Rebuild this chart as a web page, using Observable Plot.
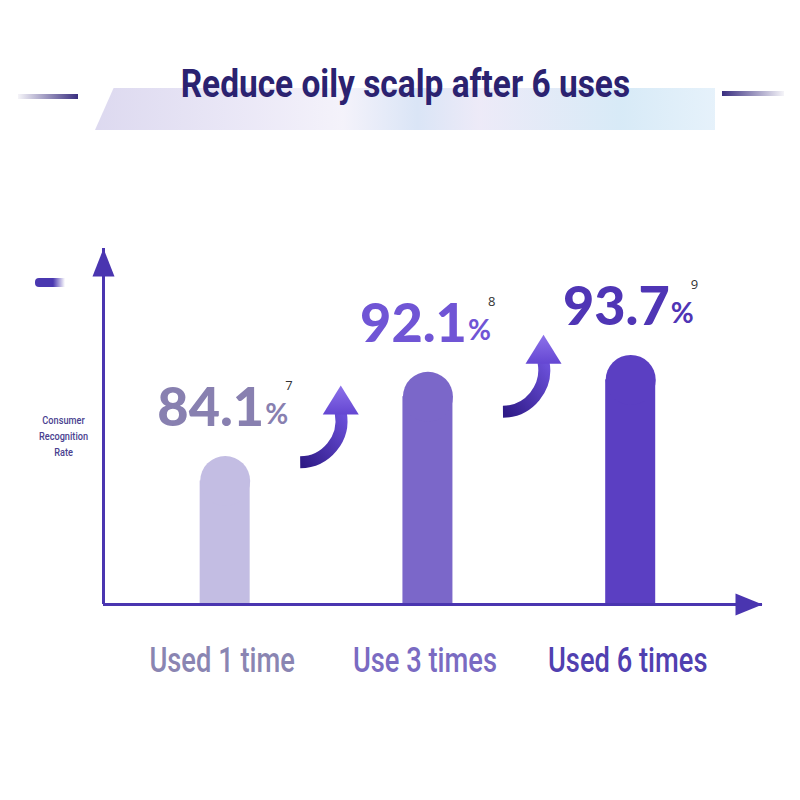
<!DOCTYPE html>
<html>
<head>
<meta charset="utf-8">
<script src="https://cdn.jsdelivr.net/npm/d3@7"></script>
<script src="https://cdn.jsdelivr.net/npm/@observablehq/plot@0.6"></script>
<style>
  html, body { margin: 0; padding: 0; background: #fff; }
  #wrap { position: relative; width: 800px; height: 800px; overflow: hidden; background: #fff; }
  #chart { position: absolute; left: 0; top: 0; z-index: 1; }
  #band { position: absolute; left: 95px; top: 88px; width: 620px; height: 42px; z-index: 2;
    background: linear-gradient(90deg, #d9d5ee 0%, #e9e6f6 25%, #f3f1fa 40%, #d6e2f5 52%, #ebe8f7 62%, #d3e8f6 85%, #e3f0fa 100%);
    clip-path: polygon(3% 0, 100% 0, 100% 100%, 0 100%); opacity: 0.9; }
  #titleRow { position: absolute; left: 0; width: 810px; top: 64px; z-index: 3; text-align: center; }
  #title { display: inline-block; transform: scaleX(0.88); transform-origin: center;
    font-family: Roboto, sans-serif; font-weight: 700; font-size: 38px; line-height: 40px; color: #2b2270; white-space: nowrap; }
  .dash { position: absolute; z-index: 2; }
  #dashL { left: 18px; top: 94px; width: 60px; height: 5px; background: linear-gradient(90deg, rgba(58,47,128,0.05), #3a2f80); }
  #dashR { left: 722px; top: 91px; width: 62px; height: 5px; background: linear-gradient(90deg, #3a2f80, rgba(58,47,128,0.05)); }
  #dashS { left: 35px; top: 278px; width: 30px; height: 9px; border-radius: 4px 0 0 4px; background: linear-gradient(90deg, #4a38b0 60%, rgba(74,56,176,0)); }
</style>
</head>
<body>
<div id="wrap">
  <div id="band"></div>
  <div id="titleRow"><span id="title"></span></div>
  <div class="dash" id="dashL"></div>
  <div class="dash" id="dashR"></div>
  <div class="dash" id="dashS"></div>
  <div id="chart"></div>
</div>
<script>
// ---- data ----
const title = "Reduce oily scalp after 6 uses";
const categories = ["Used 1 time", "Use 3 times", "Used 6 times"];
const values = [84.1, 92.1, 93.7];
const footnotes = ["7", "8", "9"];
const yAxisLabel = "Consumer\nRecognition\nRate";

// ---- styles ----
const barColors = ["#c3bde3", "#7b67c9", "#5b3fc2"];
const valueColors = ["#8880b0", "#7055d5", "#4f35b5"];
const categoryColors = ["#8a85b2", "#7a6bc2", "#5040b0"];
const axisColor = "#4a35b0";

document.getElementById("title").textContent = title;

const rows = categories.map((c, i) => ({i, category: c, value: values[i], note: footnotes[i]}));
const pairs = rows.slice(0, -1).map((d, k) => {
  const mid = (d.value + rows[k + 1].value) / 2;
  return {i: d.i, tailX: d.i + 0.37, tailY: mid - 4.6, tipX: d.i + 0.57, tipY: mid + 2.7};
});

const xDomain = [-0.6, 2.65];
const yDomain = [70, 103.8];
const halfBar = 0.1233;

// custom triangle symbols (tip at origin)
const triUp = {draw(ctx) { ctx.moveTo(0, 0); ctx.lineTo(11, 28); ctx.lineTo(-11, 28); ctx.closePath(); }};
const triRight = {draw(ctx) { ctx.moveTo(0, 0); ctx.lineTo(-27, -11); ctx.lineTo(-27, 11); ctx.closePath(); }};
const headUp = {draw(ctx) { ctx.moveTo(0, 0); ctx.lineTo(18, 29); ctx.lineTo(-18, 29); ctx.closePath(); }};

// gradient definitions for the growth arrows
function gradients() {
  const defs = d3.create("svg:defs");
  const g1 = defs.append("linearGradient").attr("id", "shaftGrad").attr("x1", 0).attr("y1", 1).attr("x2", 1).attr("y2", 0);
  g1.append("stop").attr("offset", "0%").attr("stop-color", "#2e1a86");
  g1.append("stop").attr("offset", "100%").attr("stop-color", "#6a4fd8");
  const g2 = defs.append("linearGradient").attr("id", "headGrad").attr("x1", 0).attr("y1", 0).attr("x2", 0).attr("y2", 1);
  g2.append("stop").attr("offset", "0%").attr("stop-color", "#8d72ea");
  g2.append("stop").attr("offset", "100%").attr("stop-color", "#6446d2");
  return defs.node();
}

const chart = Plot.plot({
  width: 800,
  height: 800,
  marginLeft: 0, marginRight: 0, marginTop: 0, marginBottom: 0,
  style: {background: "transparent"},
  x: {type: "linear", domain: xDomain, range: [103, 762], axis: null},
  y: {type: "linear", domain: yDomain, range: [604, 248], axis: null},
  color: {type: "identity"},
  marks: [
    gradients,
    // bars with rounded tops
    Plot.rectY(rows, {x1: d => d.i - halfBar, x2: d => d.i + halfBar, y1: yDomain[0], y2: "value", insetTop: 25, fill: d => barColors[d.i]}),
    Plot.dot(rows, {x: "i", y: "value", dy: 25, r: 25, fill: d => barColors[d.i], stroke: "none"}),
    // axes
    Plot.ruleX([xDomain[0]], {y1: yDomain[0], y2: yDomain[1], stroke: axisColor, strokeWidth: 3}),
    Plot.ruleY([yDomain[0]], {x1: xDomain[0], x2: xDomain[1], stroke: axisColor, strokeWidth: 3}),
    Plot.dot([0], {x: xDomain[0], y: yDomain[1], symbol: triUp, fill: axisColor, stroke: "none"}),
    Plot.dot([0], {x: xDomain[1], y: yDomain[0], symbol: triRight, fill: axisColor, stroke: "none"}),
    // curved growth arrows
    Plot.arrow(pairs, {x1: "tailX", y1: "tailY", x2: "tipX", y2: d => d.tipY - 2.6, bend: -50, headLength: 0, stroke: "url(#shaftGrad)", strokeWidth: 12, strokeLinecap: "butt"}),
    Plot.dot(pairs, {x: "tipX", y: "tipY", symbol: headUp, fill: "url(#headGrad)", stroke: "none"}),
    // value labels
    Plot.text(rows, {x: "i", y: "value", text: d => d.value.toFixed(1), textAnchor: "end", lineAnchor: "bottom", dx: 39, dy: -30,
      fontSize: 54, fontWeight: 900, fontFamily: "Lato, 'Open Sans', sans-serif", fill: d => valueColors[d.i]}),
    Plot.text(rows, {x: "i", y: "value", text: () => "%", textAnchor: "start", lineAnchor: "bottom", dx: 40, dy: -32,
      fontSize: 28, fontWeight: 700, fontFamily: "Lato, 'Open Sans', sans-serif", fill: d => valueColors[d.i]}),
    Plot.text(rows, {x: "i", y: "value", text: "note", textAnchor: "start", lineAnchor: "bottom", dx: 60, dy: -66,
      fontSize: 13, fontFamily: "'Open Sans', sans-serif", fill: "#333"}),
    // category labels
    Plot.text(rows, {x: "i", y: yDomain[0], text: "category", dx: -3, dy: 56, lineAnchor: "middle",
      fontSize: 35, fontWeight: 500, fontFamily: "Roboto, sans-serif", fill: d => categoryColors[d.i]}),
    // y-axis title
    Plot.text([yAxisLabel], {frameAnchor: "left", dx: 63, dy: 34, textAnchor: "middle", lineHeight: 1.4,
      fontSize: 11.5, fontWeight: 500, fontFamily: "Roboto, sans-serif", fill: "#4a3f90"})
  ]
});

// narrow the condensed-style labels horizontally (position kept by the existing translate)
function condense(svg, test, s) {
  d3.select(svg).selectAll("text").filter(function() { return test(this.textContent); }).each(function() {
    const t = this.getAttribute("transform") || "";
    this.setAttribute("transform", `${t} scale(${s},1)`);
  });
}
condense(chart, t => categories.includes(t), 0.78);
condense(chart, t => t === yAxisLabel.replace(/\n/g, ""), 0.8);

document.getElementById("chart").appendChild(chart);
</script>
</body>
</html>
